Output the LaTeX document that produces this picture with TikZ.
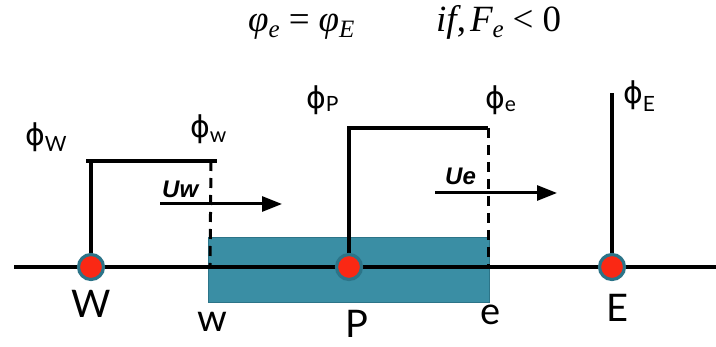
\documentclass[tikz,border=0pt]{standalone}
\usepackage{fontspec}
\setmainfont{Lato}
\newfontfamily\phifont{DejaVu Sans}
\newfontfamily\arialfont{Liberation Sans}
\newfontfamily\eqfont{Liberation Serif}
\usetikzlibrary{arrows.meta}
\definecolor{cvteal}{RGB}{58,142,164}
\definecolor{cvedge}{RGB}{44,116,136}
\definecolor{dotred}{RGB}{250,40,20}
\tikzset{
  axisline/.style={line width=4pt},
  stem/.style={line width=3.2pt},
  facedash/.style={line width=3pt, dash pattern=on 10pt off 7pt},
  flow/.style={line width=3pt, -{Triangle[length=20pt,width=15pt]}},
  gridpt/.style={circle, fill=dotred, draw=cvedge, line width=3.2pt, minimum size=25pt, inner sep=0pt},
  cvbox/.style={draw=cvedge, fill=cvteal, line width=1.5pt, minimum width=281pt, minimum height=65pt, inner sep=0pt},
  biglbl/.style={font=\fontsize{38}{40}\selectfont, inner sep=0pt},
  philbl/.style={anchor=base west, inner sep=0pt},
  ulbl/.style={anchor=base west, inner sep=0pt, font=\fontsize{24}{26}\arialfont\bfseries\itshape},
  eqlbl/.style={anchor=base west, inner sep=0pt, font=\fontsize{37}{40}\eqfont}
}
\newcommand{\phiw}[2]{{\fontsize{30}{30}\phifont ϕ}{\fontsize{21}{22}\selectfont\raisebox{-#2pt}{#1}}}
\newcommand{\eqsub}[1]{\raisebox{-6pt}{\fontsize{25}{26}\selectfont\itshape #1}}
\begin{document}
\begin{tikzpicture}[x=1pt,y=-1pt]
\useasboundingbox (0,0) rectangle (716,347);
\fill[white] (0,0) rectangle (716,347);

% equation
\node[eqlbl] (eq1) at (248,32) {{\itshape φ}\eqsub{e}\hspace{9pt}=\hspace{9pt}{\itshape φ}\eqsub{E}};
\node[eqlbl] (eq2) at (436,32) {{\itshape if},\hspace{4pt}{\itshape F}\eqsub{e}\hspace{9pt}<\hspace{9pt}0};

% control volume
\node[cvbox] (cv) at (349,270) {};

% axis
\coordinate (L) at (14,267);
\coordinate (R) at (716,267);
\draw[axisline] (L) -- (R);

% grid point coordinates
\coordinate (Wc) at (91,267);
\coordinate (Pc) at (349,267);
\coordinate (Ec) at (612,267);
\coordinate (wc) at (210,267);
\coordinate (ec) at (488,267);

% profile steps
\coordinate (Wt) at (91,161);
\coordinate (WtL) at (86,161);
\coordinate (wt) at (211,161);
\coordinate (wtR) at (217,161);
\coordinate (Pt) at (349,128);
\coordinate (et) at (488,128);
\coordinate (Et) at (612,93);

\draw[stem] (Wc) -- (Wt);
\draw[stem] (WtL) -- (wtR);
\draw[facedash] (wt) -- (wc);
\draw[stem] (Pc) -- (Pt.center) -- (et);
\draw[stem] ([xshift=-1.5pt]Pt) -- (et);
\draw[facedash] (et) -- (ec);
\draw[stem] (Ec) -- (Et);

% flow arrows
\coordinate (uwA) at (160,204);
\coordinate (uwB) at (282,204);
\coordinate (ueA) at (435,193);
\coordinate (ueB) at (557,193);
\draw[flow] (uwA) -- (uwB);
\draw[flow] (ueA) -- (ueB);
\node[ulbl] (uw) at (162,198) {Uw};
\node[ulbl] (ue) at (445,185) {Ue};

% grid points
\node[gridpt] (W) at (Wc) {};
\node[gridpt] (P) at (Pc) {};
\node[gridpt] (E) at (Ec) {};

% labels
\node[biglbl] (lW) at (91,304) {W};
\node[biglbl] (lw) at (212,322) {w};
\node[biglbl] (lP) at (357,324) {P};
\node[biglbl] (le) at (491,315) {e};
\node[biglbl] (lE) at (617,308) {E};

\node[philbl] (pW) at (25,146) {\phiw{W}{6}};
\node[philbl] (pw) at (190,138) {\phiw{w}{5}};
\node[philbl] (pP) at (306,109) {\phiw{P}{3}};
\node[philbl] (pe) at (485,109) {\phiw{e}{3}};
\node[philbl] (pE) at (623,104) {\phiw{E}{8}};
\end{tikzpicture}
\end{document}
